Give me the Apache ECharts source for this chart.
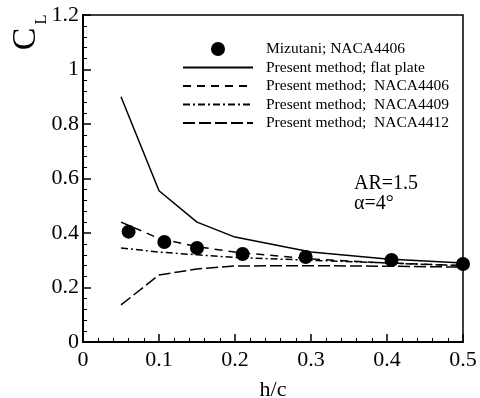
<!DOCTYPE html>
<html><head><meta charset="utf-8">
<script src="https://cdn.jsdelivr.net/npm/echarts@6/dist/echarts.min.js"></script>
<style>html,body{margin:0;padding:0;background:#fff}#c{width:480px;height:398px}</style>
</head><body><div id="c"></div>
<script>
const hc = [0.05, 0.1, 0.15, 0.2, 0.3, 0.4, 0.5];
const flatPlate = [0.9, 0.555, 0.44, 0.385, 0.33, 0.305, 0.29];
const naca4406 = [0.44, 0.38, 0.35, 0.33, 0.305, 0.29, 0.28];
const naca4409 = [0.345, 0.33, 0.32, 0.31, 0.3, 0.29, 0.28];
const naca4412 = [0.136, 0.246, 0.268, 0.279, 0.28, 0.278, 0.275];
const mizutaniX = [0.06, 0.107, 0.15, 0.21, 0.293, 0.406, 0.5];
const mizutaniY = [0.405, 0.367, 0.345, 0.323, 0.312, 0.301, 0.286];
const names = ['Mizutani; NACA4406', 'Present method; flat plate', 'Present method;  NACA4406', 'Present method;  NACA4409', 'Present method;  NACA4412'];

const font = 'Liberation Serif, Times New Roman, serif';
const pair = (xs, ys) => xs.map((x, i) => [x, ys[i]]);
const lineSeries = (name, ys, type) => ({
  name, type: 'line', data: pair(hc, ys), symbol: 'none', silent: true,
  lineStyle: { color: '#000', width: 1.5, type }, itemStyle: { color: '#000' }
});

const chart = echarts.init(document.getElementById('c'));
chart.setOption({
  animation: false,
  grid: { left: 83, top: 15, right: 17, bottom: 56, outerBoundsMode: 'none', containLabel: false,
    show: true, borderColor: '#000', borderWidth: 1.5 },
  legend: {
    orient: 'vertical', left: 177, top: 36, itemWidth: 70, itemHeight: 14, itemGap: 2.5,
    textStyle: { fontFamily: font, fontSize: 15.5, color: '#000', padding: [0, 0, 0, 8] },
    data: names.map((n, i) => i === 0 ? { name: n, itemStyle: { opacity: 1 } } : { name: n, itemStyle: { opacity: 0 } })
  },
  xAxis: {
    type: 'value', min: 0, max: 0.5, interval: 0.1,
    name: 'h/c', nameLocation: 'middle', nameGap: 37,
    nameTextStyle: { fontFamily: font, fontSize: 22, color: '#000' },
    axisLine: { lineStyle: { color: '#000', width: 2 } },
    axisTick: { inside: true, length: 8, lineStyle: { color: '#000', width: 1.5 } },
    minorTick: { show: true, splitNumber: 5, length: 4, lineStyle: { color: '#000' } },
    splitLine: { show: false },
    axisLabel: { fontFamily: font, fontSize: 22, color: '#000', margin: 7,
      formatter: v => String(+v.toFixed(1)) }
  },
  yAxis: {
    type: 'value', min: 0, max: 1.2, interval: 0.2,
    axisLine: { lineStyle: { color: '#000', width: 2 } },
    axisTick: { inside: true, length: 8, lineStyle: { color: '#000', width: 1.5 } },
    minorTick: { show: true, splitNumber: 5, length: 4, lineStyle: { color: '#000' } },
    splitLine: { show: false },
    axisLabel: { fontFamily: font, fontSize: 22, color: '#000', margin: 4,
      formatter: v => String(+v.toFixed(1)) }
  },
  graphic: [
    { type: 'text', x: 26, y: 39, rotation: Math.PI / 2,
      style: { text: 'C', fontFamily: font, fontSize: 34, fill: '#000', align: 'center', verticalAlign: 'middle' } },
    { type: 'text', x: 42, y: 19.5, rotation: Math.PI / 2,
      style: { text: 'L', fontFamily: font, fontSize: 17, fill: '#000', align: 'center', verticalAlign: 'middle' } },
    { type: 'text', left: 354, top: 174, style: { text: 'AR=1.5', fontFamily: font, fontSize: 20, fill: '#000' } },
    { type: 'text', left: 354, top: 194, style: { text: 'α=4°', fontFamily: font, fontSize: 20, fill: '#000' } }
  ],
  series: [
    { name: names[0], type: 'scatter', data: pair(mizutaniX, mizutaniY), symbol: 'circle', symbolSize: 14,
      itemStyle: { color: '#000', opacity: 1 }, z: 5 },
    lineSeries(names[1], flatPlate, 'solid'),
    lineSeries(names[2], naca4406, [8, 6]),
    lineSeries(names[3], naca4409, [7, 3, 2, 3]),
    lineSeries(names[4], naca4412, [12, 4])
  ]
});
</script></body></html>
